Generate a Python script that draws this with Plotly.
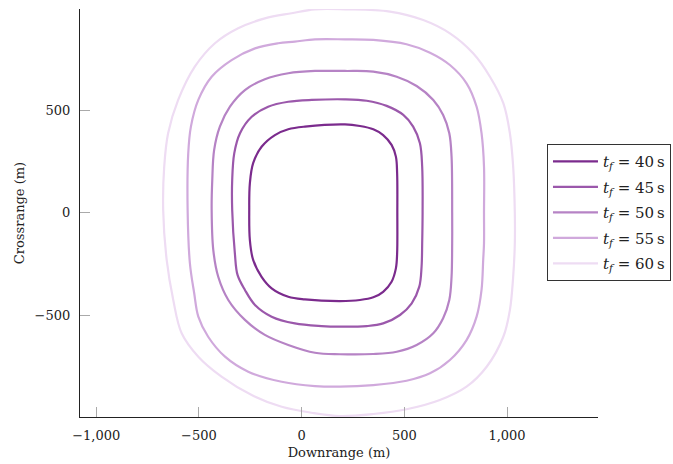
import plotly.graph_objects as go

# Final times of the trajectories (s)
final_times = [40, 45, 50, 55, 60]

# Reachable-set boundary for each final time: downrange / crossrange (m),
# traced clockwise starting from the top of each contour.
down_40 = [211, 284, 349, 397, 438, 459, 465, 466, 465, 459, 438, 397, 349, 284, 187,
           16, -65, -146, -195, -236, -252, -255, -252, -236, -195, -130, -65, 16, 211]
cross_40 = [430, 422, 406, 378, 330, 273, 192, -2, -198, -271, -336, -385, -412, -425, -430,
            -422, -409, -368, -312, -230, -133, 13, 143, 241, 321, 378, 406, 419, 430]

down_45 = [211, 317, 414, 495, 543, 576, 587, 589, 587, 584, 573, 536, 479, 397, 317, 187,
           97, -33, -146, -227, -276, -312, -325, -338, -338, -328, -300, -243, -163, -65, 49, 211]
cross_45 = [552, 545, 520, 476, 419, 338, 224, -2, -149, -263, -360, -441, -498, -539, -552, -555,
            -552, -539, -506, -449, -376, -303, -198, 13, 159, 289, 387, 467, 516, 540, 549, 552]

down_50 = [211, 349, 463, 560, 641, 689, 719, 730, 733, 733, 730, 719, 689, 641, 560, 463, 349, 187,
           65, -65, -179, -276, -357, -406, -430, -438, -435, -426, -398, -349, -276, -179, -65, 65, 211]
cross_50 = [690, 687, 662, 617, 549, 476, 387, 273, -2, -149, -312, -425, -514, -587, -644, -677, -688, -689,
            -682, -644, -595, -522, -425, -312, -182, 13, 159, 305, 419, 516, 597, 650, 679, 690, 690]

down_55 = [211, 349, 511, 625, 722, 803, 852, 876, 888, 888, 888, 884, 876, 852, 803, 722, 625, 511, 349, 187,
           65, -97, -260, -373, -455, -503, -523, -544, -555, -552, -539, -503, -438, -341, -227, -114, -33, 65, 211]
cross_55 = [844, 841, 820, 779, 719, 630, 516, 387, 224, -2, -149, -230, -376, -506, -620, -717, -782, -818, -839, -847,
            -844, -823, -774, -701, -604, -506, -392, -246, 13, 289, 419, 549, 662, 743, 800, 825, 833, 844, 844]

down_60 = [211, 430, 592, 722, 835, 917, 982, 1014, 1030, 1038, 1038, 1030, 1014, 982, 901, 803, 673, 511, 349, 187,
           49, -97, -243, -390, -503, -584, -625, -657, -674, -669, -650, -601, -520, -422, -309, -179, -49, 65, 211]
cross_60 = [990, 979, 938, 873, 776, 662, 533, 387, 224, -2, -149, -312, -474, -604, -750, -847, -912, -957, -980, -990,
            -974, -945, -888, -798, -701, -587, -425, -230, 13, 224, 387, 549, 711, 825, 898, 946, 971, 990, 990]

downrange = [down_40, down_45, down_50, down_55, down_60]
crossrange = [cross_40, cross_45, cross_50, cross_55, cross_60]

x_tick_vals = [-1000, -500, 0, 500, 1000]
x_tick_text = ["\u22121,000", "\u2212500", "0", "500", "1,000"]
y_tick_vals = [-500, 0, 500]
y_tick_text = ["\u2212500", "0", "500"]

colors = ["#7b2b8d", "#9b58ab", "#b683c5", "#d0a9dc", "#eedcf3"]
FONT = "DejaVu Serif"
TEXT = "#222222"

fig = go.Figure()
for tf, xs, ys, c in zip(final_times, downrange, crossrange, colors):
    fig.add_trace(go.Scatter(
        x=xs, y=ys, mode="lines",
        line=dict(color=c, width=2.2, shape="spline", smoothing=1.0),
        name=f"<i>t</i><sub><i>f</i></sub> = {tf}\u2009s",
        legendgroup=str(tf),
    ))

axis_common = dict(
    showgrid=False, zeroline=False, showline=True, linecolor="#222222", linewidth=1.3,
    ticks="inside", ticklen=10, tickwidth=1, tickcolor="#aaaaaa",
    tickfont=dict(family=FONT, size=13, color=TEXT),
    ticklabelstandoff=6,
    automargin=False,
    mirror=False,
)

fig.update_xaxes(
    range=[-1079, 1443], tickvals=x_tick_vals, ticktext=x_tick_text,
    title=dict(text="Downrange (m)", font=dict(family=FONT, size=13, color=TEXT), standoff=6),
    **axis_common,
)
fig.update_yaxes(
    range=[-994.6, 991.7], tickvals=y_tick_vals, ticktext=y_tick_text,
    title=dict(text="Crossrange (m)", font=dict(family=FONT, size=13, color=TEXT), standoff=6),
    **axis_common,
)

fig.update_layout(
    width=673, height=464,
    margin=dict(l=80, r=75, t=9, b=47, autoexpand=False),
    paper_bgcolor="white", plot_bgcolor="white",
    showlegend=True,
    legend=dict(
        x=0.9015, y=0.669, xanchor="left", yanchor="top",
        bordercolor="#333333", borderwidth=1, bgcolor="white",
        font=dict(family=FONT, size=15, color=TEXT),
        tracegroupgap=3, itemwidth=45,
    ),
)

fig.write_html("out.html")
